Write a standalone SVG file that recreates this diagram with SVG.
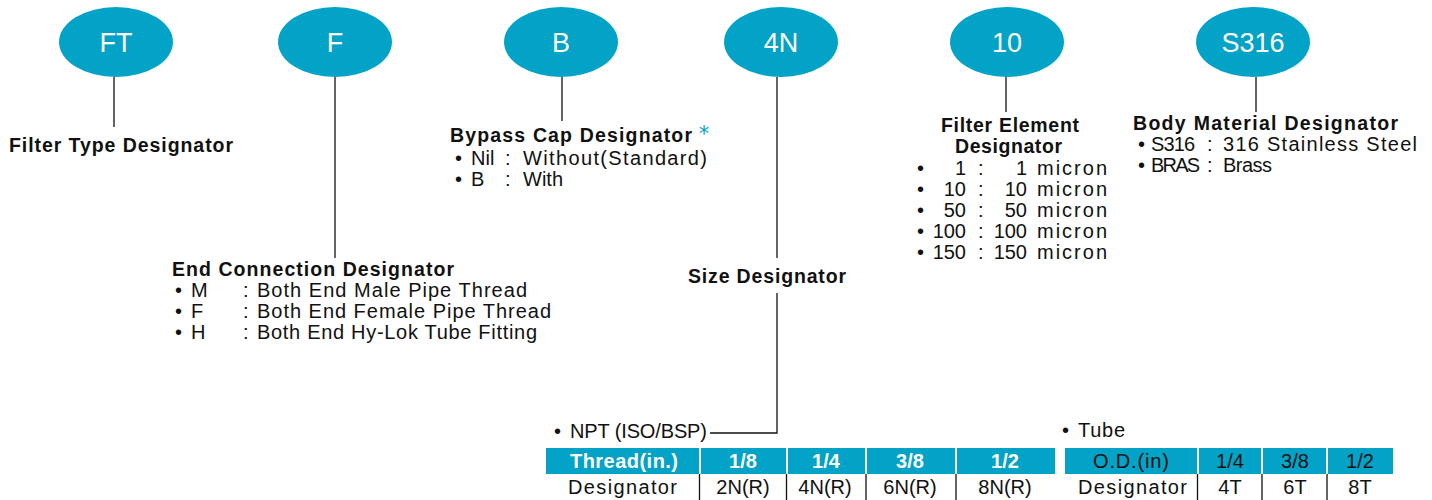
<svg xmlns="http://www.w3.org/2000/svg" width="1432" height="500" viewBox="0 0 1432 500">
<style>
.node ellipse{fill:#03A2C7}
.code{font-family:"Liberation Sans",Arial,sans-serif;font-size:27px;fill:#fff;text-anchor:middle}
.lbl{font-family:"Liberation Sans",Arial,sans-serif;font-size:19.5px;font-weight:bold;fill:#111}
.txt{font-family:"Liberation Sans",Arial,sans-serif;font-size:20px;fill:#111}
.mid{text-anchor:middle}
.end{text-anchor:end}
.hw{fill:#fff}
.conn line,.conn polyline{stroke:#111;stroke-width:1.3;fill:none}
.hdr{fill:#03A2C7}
.sep{stroke:#111;stroke-width:1.3}
</style>
<g class="conn" id="connectors">
<line x1="114" y1="77" x2="114" y2="127"/>
<line x1="335" y1="77" x2="335" y2="258"/>
<line x1="562" y1="77" x2="562" y2="121"/>
<line x1="777" y1="77" x2="777" y2="258"/>
<polyline points="777,293 777,433 710,433"/>
<line x1="1006" y1="77" x2="1006" y2="112"/>
<line x1="1256" y1="77" x2="1256" y2="112"/>
</g>
<g class="node" id="node-ft"><ellipse cx="116" cy="42" rx="57" ry="35"/><text class="code" x="116" y="52">FT</text></g>
<g class="node" id="node-f"><ellipse cx="335" cy="42" rx="57" ry="35"/><text class="code" x="335" y="52">F</text></g>
<g class="node" id="node-b"><ellipse cx="561" cy="42" rx="57" ry="35"/><text class="code" x="561" y="52">B</text></g>
<g class="node" id="node-4n"><ellipse cx="781" cy="42" rx="57" ry="35"/><text class="code" x="781" y="52">4N</text></g>
<g class="node" id="node-10"><ellipse cx="1007" cy="42" rx="57" ry="35"/><text class="code" x="1007" y="52">10</text></g>
<g class="node" id="node-s316"><ellipse cx="1253" cy="42" rx="57" ry="35"/><text class="code" x="1253" y="52">S316</text></g>

<g id="label-filter-type">
<text class="lbl" x="9" y="152" textLength="224" lengthAdjust="spacing">Filter Type Designator</text>
</g>

<g id="label-bypass">
<text class="lbl" x="450" y="142" textLength="242" lengthAdjust="spacing">Bypass Cap Designator</text>
<text x="704" y="141" style="font-family:'DejaVu Sans',sans-serif;font-size:21px;fill:#03A2C7;text-anchor:middle">*</text>
<text class="txt" x="455" y="165">•</text><text class="txt" x="471" y="165">Nil</text><text class="txt" x="505" y="165">:</text>
<text class="txt" x="523" y="165" textLength="184" lengthAdjust="spacing">Without(Standard)</text>
<text class="txt" x="455" y="186">•</text><text class="txt" x="471" y="186">B</text><text class="txt" x="505" y="186">:</text>
<text class="txt" x="523" y="186" textLength="40" lengthAdjust="spacing">With</text>
</g>

<g id="label-end-connection">
<text class="lbl" x="172" y="276" textLength="282" lengthAdjust="spacing">End Connection Designator</text>
<text class="txt" x="175" y="297">•</text><text class="txt" x="191" y="297">M</text><text class="txt" x="243" y="297">:</text>
<text class="txt" x="257" y="297" textLength="270" lengthAdjust="spacing">Both End Male Pipe Thread</text>
<text class="txt" x="175" y="318">•</text><text class="txt" x="191" y="318">F</text><text class="txt" x="243" y="318">:</text>
<text class="txt" x="257" y="318" textLength="294" lengthAdjust="spacing">Both End Female Pipe Thread</text>
<text class="txt" x="175" y="339">•</text><text class="txt" x="191" y="339">H</text><text class="txt" x="243" y="339">:</text>
<text class="txt" x="257" y="339" textLength="280" lengthAdjust="spacing">Both End Hy-Lok Tube Fitting</text>
</g>

<g id="label-size">
<text class="lbl" x="688" y="283" textLength="158" lengthAdjust="spacing">Size Designator</text>
</g>

<g id="label-filter-element">
<text class="lbl" x="941" y="132" textLength="138" lengthAdjust="spacing">Filter Element</text>
<text class="lbl" x="955" y="153" textLength="107" lengthAdjust="spacing">Designator</text>
<text class="txt" x="917" y="175">•</text><text class="txt end" x="966" y="175">1</text><text class="txt" x="978" y="175">:</text><text class="txt end" x="1027" y="175">1</text><text class="txt" x="1037" y="175" textLength="70" lengthAdjust="spacing">micron</text>
<text class="txt" x="917" y="196">•</text><text class="txt end" x="966" y="196">10</text><text class="txt" x="978" y="196">:</text><text class="txt end" x="1027" y="196">10</text><text class="txt" x="1037" y="196" textLength="70" lengthAdjust="spacing">micron</text>
<text class="txt" x="917" y="217">•</text><text class="txt end" x="966" y="217">50</text><text class="txt" x="978" y="217">:</text><text class="txt end" x="1027" y="217">50</text><text class="txt" x="1037" y="217" textLength="70" lengthAdjust="spacing">micron</text>
<text class="txt" x="917" y="238">•</text><text class="txt end" x="966" y="238">100</text><text class="txt" x="978" y="238">:</text><text class="txt end" x="1027" y="238">100</text><text class="txt" x="1037" y="238" textLength="70" lengthAdjust="spacing">micron</text>
<text class="txt" x="917" y="259">•</text><text class="txt end" x="966" y="259">150</text><text class="txt" x="978" y="259">:</text><text class="txt end" x="1027" y="259">150</text><text class="txt" x="1037" y="259" textLength="70" lengthAdjust="spacing">micron</text>
</g>

<g id="label-body-material">
<text class="lbl" x="1133" y="130" textLength="265" lengthAdjust="spacing">Body Material Designator</text>
<text class="txt" x="1138" y="151">•</text><text class="txt" x="1151" y="151" textLength="44" lengthAdjust="spacing">S316</text><text class="txt" x="1207" y="151">:</text>
<text class="txt" x="1223" y="151" textLength="194" lengthAdjust="spacing">316 Stainless Steel</text>
<text class="txt" x="1138" y="172">•</text><text class="txt" x="1151" y="172" textLength="49" lengthAdjust="spacing">BRAS</text><text class="txt" x="1207" y="172">:</text>
<text class="txt" x="1223" y="172" textLength="49" lengthAdjust="spacing">Brass</text>
</g>

<g id="table-npt">
<text class="txt" x="554" y="438">•</text>
<text class="txt" x="570" y="438" textLength="137" lengthAdjust="spacing">NPT (ISO/BSP)</text>
<rect class="hdr" x="546" y="448" width="153" height="26"/>
<rect class="hdr" x="701" y="448" width="85" height="26"/>
<rect class="hdr" x="788" y="448" width="77" height="26"/>
<rect class="hdr" x="867" y="448" width="88" height="26"/>
<rect class="hdr" x="957" y="448" width="98" height="26"/>
<text class="txt hw" x="570" y="468" textLength="108" lengthAdjust="spacing" style="font-weight:bold">Thread(in.)</text>
<text class="txt hw mid" x="743" y="468" style="font-weight:bold">1/8</text>
<text class="txt hw mid" x="826" y="468" style="font-weight:bold">1/4</text>
<text class="txt hw mid" x="910" y="468" style="font-weight:bold">3/8</text>
<text class="txt hw mid" x="1005" y="468" style="font-weight:bold">1/2</text>
<line class="sep" x1="699.5" y1="474" x2="699.5" y2="500"/>
<line class="sep" x1="786.5" y1="474" x2="786.5" y2="500"/>
<line class="sep" x1="866" y1="474" x2="866" y2="500"/>
<line class="sep" x1="956" y1="474" x2="956" y2="500"/>
<text class="txt" x="568" y="494" textLength="109" lengthAdjust="spacing">Designator</text>
<text class="txt mid" x="743" y="494">2N(R)</text>
<text class="txt mid" x="825" y="494">4N(R)</text>
<text class="txt mid" x="910" y="494">6N(R)</text>
<text class="txt mid" x="1005" y="494">8N(R)</text>
</g>

<g id="table-tube">
<text class="txt" x="1062" y="437">•</text>
<text class="txt" x="1078" y="437" textLength="47" lengthAdjust="spacing">Tube</text>
<rect class="hdr" x="1065" y="448" width="132" height="26"/>
<rect class="hdr" x="1199" y="448" width="62" height="26"/>
<rect class="hdr" x="1263" y="448" width="63" height="26"/>
<rect class="hdr" x="1328" y="448" width="65" height="26"/>
<text class="txt mid" x="1131" y="468" textLength="76" lengthAdjust="spacing">O.D.(in)</text>
<text class="txt mid" x="1230" y="468">1/4</text>
<text class="txt mid" x="1295" y="468">3/8</text>
<text class="txt mid" x="1360" y="468">1/2</text>
<line class="sep" x1="1197.5" y1="474" x2="1197.5" y2="500"/>
<line class="sep" x1="1262" y1="474" x2="1262" y2="500"/>
<line class="sep" x1="1327" y1="474" x2="1327" y2="500"/>
<text class="txt" x="1078" y="494" textLength="109" lengthAdjust="spacing">Designator</text>
<text class="txt mid" x="1230" y="494">4T</text>
<text class="txt mid" x="1295" y="494">6T</text>
<text class="txt mid" x="1360" y="494">8T</text>
</g>
</svg>
